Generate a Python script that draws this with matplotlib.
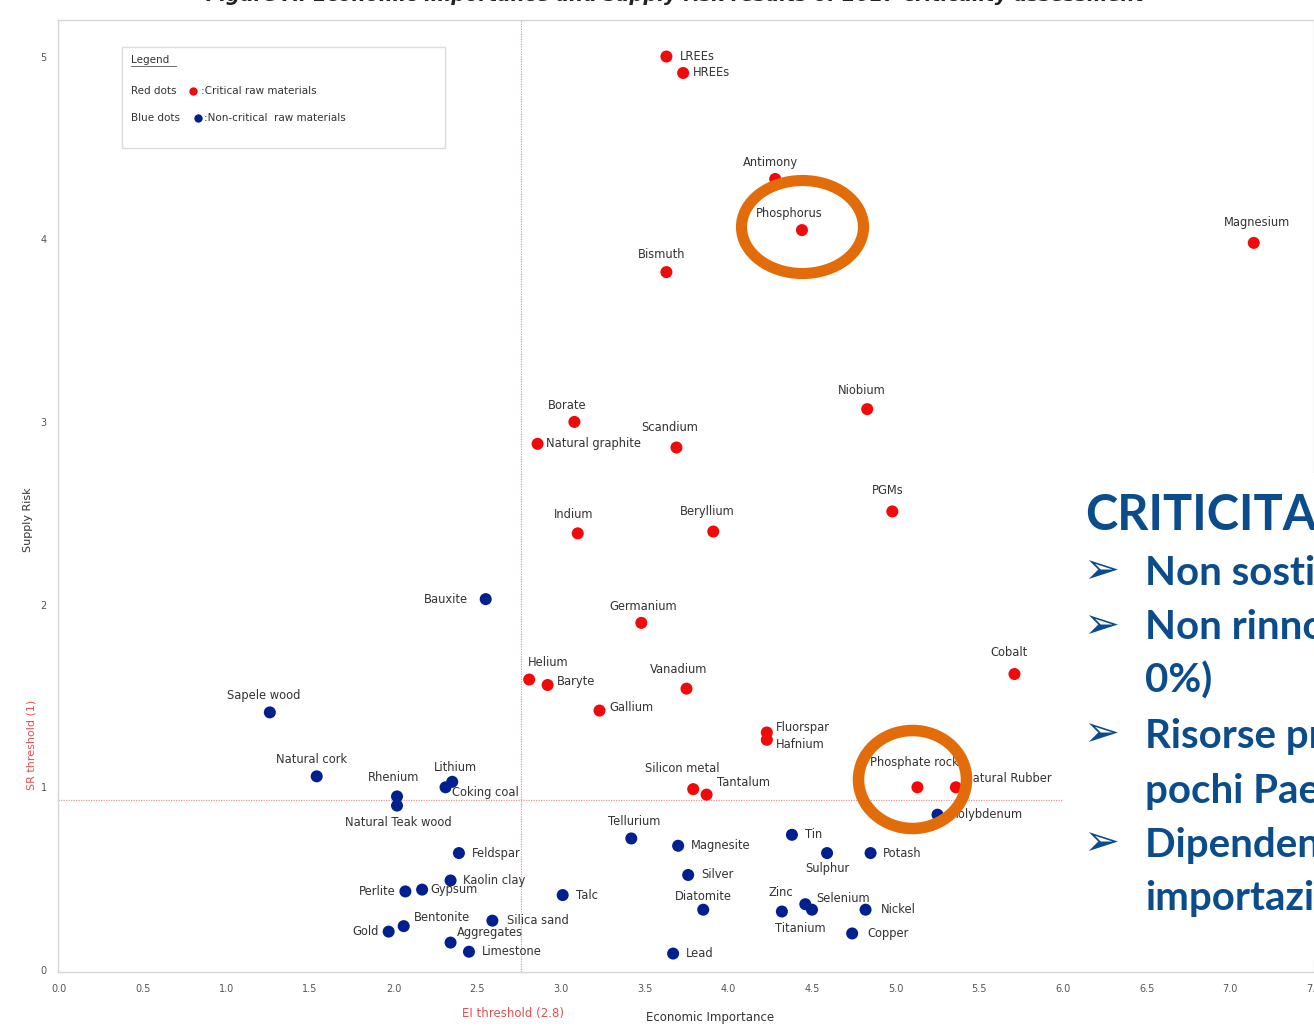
import matplotlib
matplotlib.use('Agg')
import matplotlib.pyplot as plt
from matplotlib.patches import Ellipse, Rectangle
from matplotlib.lines import Line2D

W, H = 1314, 1036

# Critical raw materials (red dots): economic importance, supply risk
crit_names = ['LREEs', 'HREEs', 'Antimony', 'Phosphorus', 'Bismuth', 'Magnesium',
              'Niobium', 'Borate', 'Natural graphite', 'Scandium', 'PGMs', 'Indium',
              'Beryllium', 'Germanium', 'Cobalt', 'Helium', 'Baryte', 'Vanadium',
              'Gallium', 'Fluorspar', 'Hafnium', 'Silicon metal', 'Tantalum',
              'Phosphate rock', 'Natural Rubber']
crit_ei = [3.63, 3.73, 4.28, 4.44, 3.63, 7.14,
           4.83, 3.08, 2.86, 3.69, 4.98, 3.10,
           3.91, 3.48, 5.71, 2.81, 2.92, 3.75,
           3.23, 4.23, 4.23, 3.79, 3.87,
           5.13, 5.36]
crit_sr = [5.00, 4.91, 4.33, 4.05, 3.82, 3.98,
           3.07, 3.00, 2.88, 2.86, 2.51, 2.39,
           2.40, 1.90, 1.62, 1.59, 1.56, 1.54,
           1.42, 1.30, 1.26, 0.99, 0.96,
           1.00, 1.00]

# Non-critical raw materials (blue dots)
noncrit_names = ['Bauxite', 'Sapele wood', 'Natural cork', 'Rhenium', 'Natural Teak wood',
                 'Lithium', 'Coking coal', 'Tellurium', 'Magnesite', 'Feldspar',
                 'Kaolin clay', 'Perlite', 'Gypsum', 'Talc', 'Silver', 'Diatomite',
                 'Bentonite', 'Gold', 'Silica sand', 'Aggregates', 'Limestone', 'Lead',
                 'Tin', 'Sulphur', 'Potash', 'Molybdenum', 'Zinc', 'Selenium',
                 'Titanium', 'Nickel', 'Copper']
noncrit_ei = [2.55, 1.26, 1.54, 2.02, 2.02,
              2.35, 2.31, 3.42, 3.70, 2.39,
              2.34, 2.07, 2.17, 3.01, 3.76, 3.85,
              2.06, 1.97, 2.59, 2.34, 2.45, 3.67,
              4.38, 4.59, 4.85, 5.25, 4.32, 4.46,
              4.50, 4.82, 4.74]
noncrit_sr = [2.03, 1.41, 1.06, 0.95, 0.90,
              1.03, 1.00, 0.72, 0.68, 0.64,
              0.49, 0.43, 0.44, 0.41, 0.52, 0.33,
              0.24, 0.21, 0.27, 0.15, 0.10, 0.09,
              0.74, 0.64, 0.64, 0.85, 0.32, 0.36,
              0.33, 0.33, 0.20]

# threshold lines sit here in the screenshot (labelled 2.8 and 1)
ei_threshold = 2.76
sr_threshold = 0.93

x_ticks = [0.0, 0.5, 1.0, 1.5, 2.0, 2.5, 3.0, 3.5, 4.0, 4.5, 5.0, 5.5, 6.0, 6.5, 7.0, 7.5]
y_ticks = [0, 1, 2, 3, 4, 5]

title = 'Figure A: Economic importance and supply risk results of 2017 criticality assessment'
right_title = "CRITICITA'"
right_lines = [('Non sostituibile', True),
               ('Non rinnovabile (riciclo', True),
               ('0%)', False),
               ('Risorse presenti in', True),
               ('pochi Paesi', False),
               ('Dipendenza da', True),
               ('importazioni', False)]

# label placement: dx, dy (pixels, up is positive), alignment
lab = {
    'LREEs': (13, 0, 'left'), 'HREEs': (10, 0, 'left'), 'Antimony': (-5, 16, 'center'),
    'Phosphorus': (-13, 17, 'center'), 'Bismuth': (-5, 18, 'center'),
    'Magnesium': (3, 20, 'center'), 'Niobium': (-5, 19, 'center'),
    'Borate': (-7, 16, 'center'), 'Natural graphite': (8, 0, 'left'),
    'Scandium': (-7, 20, 'center'), 'PGMs': (-5, 21, 'center'),
    'Indium': (-4, 19, 'center'), 'Beryllium': (-6, 20, 'center'),
    'Germanium': (2, 16, 'center'), 'Cobalt': (-5, 22, 'center'),
    'Helium': (19, 17, 'center'), 'Baryte': (9, 3, 'left'),
    'Vanadium': (-8, 19, 'center'), 'Gallium': (10, 3, 'left'),
    'Fluorspar': (9, 5, 'left'), 'Hafnium': (9, -5, 'left'),
    'Silicon metal': (-11, 21, 'center'), 'Tantalum': (10, 12, 'left'),
    'Phosphate rock': (-47, 25, 'left'), 'Natural Rubber': (8, 9, 'left'),
    'Bauxite': (-18, 0, 'right'), 'Sapele wood': (-6, 17, 'center'),
    'Natural cork': (-5, 17, 'center'), 'Rhenium': (-3, 19, 'center'),
    'Natural Teak wood': (1, -17, 'center'), 'Lithium': (3, 14, 'center'),
    'Coking coal': (6, -5, 'left'), 'Tellurium': (3, 17, 'center'),
    'Magnesite': (13, 0, 'left'), 'Feldspar': (13, 0, 'left'),
    'Kaolin clay': (12, 0, 'left'), 'Perlite': (-10, 0, 'right'),
    'Gypsum': (8, 0, 'left'), 'Talc': (13, 0, 'left'), 'Silver': (13, 0, 'left'),
    'Diatomite': (0, 13, 'center'), 'Bentonite': (10, 9, 'left'),
    'Gold': (-10, 0, 'right'), 'Silica sand': (15, 0, 'left'),
    'Aggregates': (6, 10, 'left'), 'Limestone': (13, 0, 'left'),
    'Lead': (13, 0, 'left'), 'Tin': (13, 0, 'left'), 'Sulphur': (0, -15, 'center'),
    'Potash': (12, 0, 'left'), 'Molybdenum': (11, 0, 'left'),
    'Zinc': (-1, 19, 'center'), 'Selenium': (11, 6, 'left'),
    'Titanium': (-12, -19, 'center'), 'Nickel': (15, 0, 'left'),
    'Copper': (15, 0, 'left'),
}

RED = '#f00a0a'
BLUE = '#00208f'
ORANGE = '#e36c0a'
NAVY = '#0a4c8c'

fig = plt.figure(figsize=(W / 100, H / 100), dpi=100)
fig.patch.set_facecolor('white')

ax = fig.add_axes([58 / W, 1 - 972 / H, (W - 58) / W, (972 - 20) / H])
ax.set_xlim(-0.006, 7.497)
ax.set_ylim(-0.011, 5.20)
for s in ax.spines.values():
    s.set_color('#d6d6d6')
    s.set_linewidth(1)
ax.set_xticks(x_ticks)
ax.set_xticklabels(['%.1f' % t for t in x_ticks])
ax.set_yticks(y_ticks)
ax.set_yticklabels([str(t) for t in y_ticks])
ax.tick_params(length=0, labelsize=7, colors='#555555')
ax.tick_params(axis='x', pad=9)
ax.tick_params(axis='y', pad=8)

ax.axvline(ei_threshold, color='#e39a9a', lw=0.9, ls=(0, (1, 1)), zorder=1)
ax.axhline(sr_threshold, color='#e39a9a', lw=0.9, ls=(0, (1, 1)), zorder=1)

ax.scatter(crit_ei, crit_sr, s=75, color=RED, edgecolors='none', zorder=3)
ax.scatter(noncrit_ei, noncrit_sr, s=75, color=BLUE, edgecolors='none', zorder=3)

for names, xs, ys in [(crit_names, crit_ei, crit_sr), (noncrit_names, noncrit_ei, noncrit_sr)]:
    for n, x, y in zip(names, xs, ys):
        dx, dy, ha = lab[n]
        ax.annotate(n, (x, y), xytext=(dx, dy), textcoords='offset pixels',
                    ha=ha, va='center', fontsize=8.3, color='#333333', zorder=4)

# overlay in pixel coordinates for the slide decorations
ov = fig.add_axes([0, 0, 1, 1])
ov.set_xlim(0, W)
ov.set_ylim(H, 0)
ov.axis('off')

# title is cut off at the top of the slide
ov.text(675, 1, title, ha='center', va='baseline', fontsize=14, fontweight='bold',
        style='italic', color='#222222')

ov.text(28, 520, 'Supply Risk', rotation=90, ha='center', va='center', fontsize=8, color='#333333')
ov.text(32, 745, 'SR threshold (1)', rotation=90, ha='center', va='center', fontsize=8, color='#e05050')
ov.text(513, 1013, 'EI threshold (2.8)', ha='center', va='center', fontsize=8.5, color='#e05050')
ov.text(710, 1017, 'Economic Importance', ha='center', va='center', fontsize=8.5, color='#333333')

# legend box
ov.add_patch(Rectangle((122, 47), 323, 101, fc='white', ec='#dcdcdc', lw=1))
ov.text(131, 60, 'Legend', ha='left', va='center', fontsize=7.5, color='#333333')
ov.add_line(Line2D([131, 176], [66, 66], color='#555555', lw=0.6))
ov.text(131, 91, 'Red dots', ha='left', va='center', fontsize=7.5, color='#333333')
ov.plot([193], [91], 'o', ms=6, color=RED, mec='none')
ov.text(201, 91, ':Critical raw materials', ha='left', va='center', fontsize=7.5, color='#333333')
ov.text(131, 118, 'Blue dots', ha='left', va='center', fontsize=7.5, color='#333333')
ov.plot([198], [118], 'o', ms=6, color=BLUE, mec='none')
ov.text(204, 118, ':Non-critical  raw materials', ha='left', va='center', fontsize=7.5, color='#333333')

# orange highlight rings
ov.add_patch(Ellipse((802.5, 227), 122, 93, fill=False, ec=ORANGE, lw=8))
ov.add_patch(Ellipse((912.5, 779.5), 108, 98, fill=False, ec=ORANGE, lw=8.3))

# text panel on the right
ov.add_patch(Rectangle((1063, 473), W - 1063, 487, fc='white', ec='none'))
ov.text(1085, 530, right_title, ha='left', va='baseline', fontsize=35,
        fontweight='bold', family='Lato', color=NAVY)
baselines = [585, 640, 693, 748, 803, 857, 910]
for (txt, bullet), yb in zip(right_lines, baselines):
    ov.text(1145, yb, txt, ha='left', va='baseline', fontsize=29,
            fontweight='bold', family='Lato', color=NAVY)
    if bullet:
        ov.text(1101, yb - 14, '\u27a2', ha='center', va='center', fontsize=31,
                family='DejaVu Sans', color=NAVY)

fig.savefig('out.png', dpi=100)
